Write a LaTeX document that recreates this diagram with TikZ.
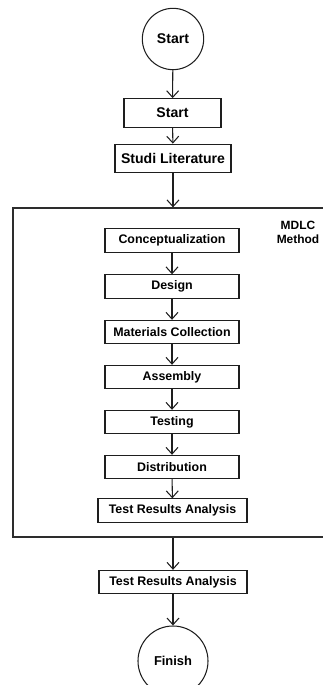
\documentclass[tikz,border=0pt]{standalone}
\usepackage{fontspec}
\setmainfont{Liberation Sans}
\usetikzlibrary{positioning,shapes.geometric,arrows.meta,calc}
\definecolor{Ink}{RGB}{30,30,30}
\definecolor{Frame}{RGB}{45,45,45}

\begin{document}
\begin{tikzpicture}[
    x=0.03cm,y=-0.03cm,
    terminal/.style={circle,draw=Ink,line width=0.9pt,inner sep=0pt,font=\fontsize{12}{14}\selectfont\bfseries},
    mainbox/.style={rectangle,draw=Ink,line width=0.9pt,minimum height=0.86cm,font=\fontsize{12}{14}\selectfont\bfseries},
    stepbox/.style={rectangle,draw=Ink,line width=0.9pt,minimum width=4.02cm,minimum height=0.7cm,font=\fontsize{10.6}{12}\selectfont\bfseries},
    mdlcframe/.style={rectangle,draw=Frame,line width=1.1pt,minimum width=9.36cm,minimum height=9.87cm},
    arrow/.style={-{Straight Barb[length=2mm,width=3.6mm]},line width=0.9pt,Ink}
]
\useasboundingbox (0,0) rectangle (322,685);

% Top part
\node[terminal,minimum size=1.84cm] (t-start) at (173,39) {Start};
\node[mainbox,minimum width=2.91cm] (m-start) at (172.5,113) {Start};
\node[mainbox,minimum width=3.48cm] (m-lit) at (173,158.5) {Studi Literature};

% MDLC method frame
\node[mdlcframe] (mdlc) at (169,372.5) {};
\node[font=\fontsize{10.2}{12}\selectfont\bfseries,align=center] (mdlc-lbl) at (298,232) {MDLC\\Method};

\node[stepbox] (s-concept) at (172,240.5) {Conceptualization};
\node[stepbox] (s-design) at (172,286.5) {Design};
\node[stepbox] (s-material) at (172,332) {Materials Collection};
\node[stepbox] (s-assembly) at (172,377) {Assembly};
\node[stepbox] (s-testing) at (172,422) {Testing};
\node[stepbox] (s-distrib) at (172,467) {Distribution};
\node[stepbox,minimum width=4.47cm] (s-analysis) at (172.5,510.5) {Test Results Analysis};

% Bottom part
\node[stepbox,minimum width=4.44cm] (m-analysis) at (173,582) {Test Results Analysis};
\node[terminal,minimum size=2.1cm,font=\fontsize{11}{13}\selectfont\bfseries] (t-finish) at (173,661) {Finish};

\draw[arrow] (t-start) -- (m-start);
\draw[arrow] (m-start) -- (m-lit);
\draw[arrow] (m-lit.south) -- (m-lit.south |- mdlc.north);
\draw[arrow] (s-concept) -- (s-design);
\draw[arrow] (s-design) -- (s-material);
\draw[arrow] (s-material) -- (s-assembly);
\draw[arrow] (s-assembly) -- (s-testing);
\draw[arrow] (s-testing) -- (s-distrib);
\draw[arrow] (s-distrib) -- (s-analysis);
\draw[arrow] (m-analysis.north |- mdlc.south) -- (m-analysis.north);
\draw[arrow] (m-analysis) -- (t-finish);

\end{tikzpicture}
\end{document}
